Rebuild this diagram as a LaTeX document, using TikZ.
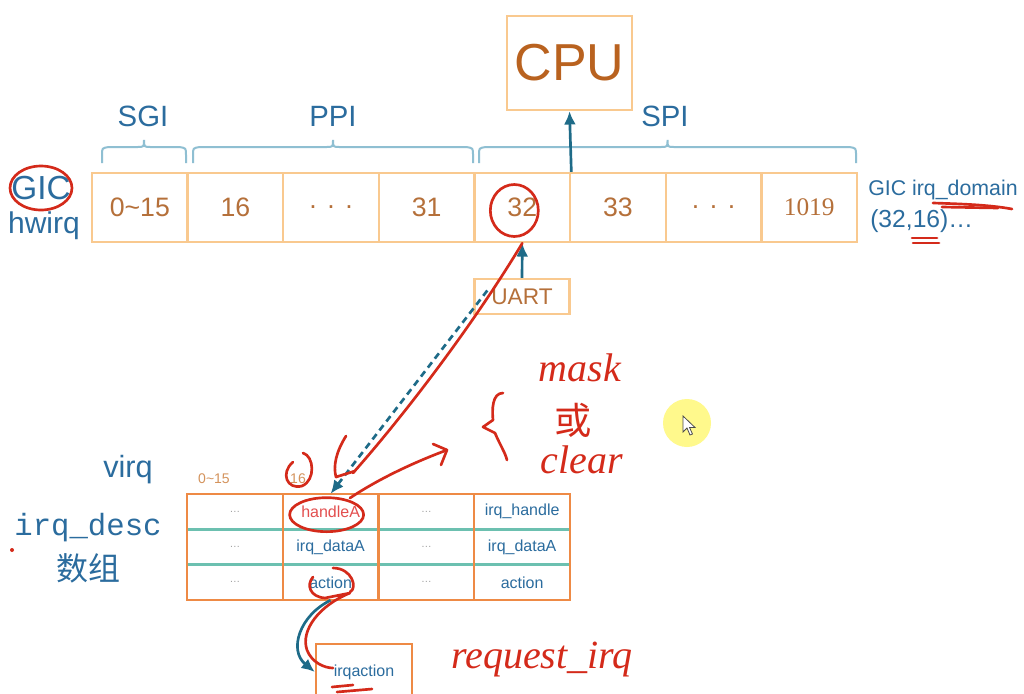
\documentclass[tikz,border=0pt]{standalone}
\usepackage{fontspec}
\setmainfont{Liberation Serif}
\setsansfont{Liberation Sans}
\setmonofont{Liberation Mono}
\newfontfamily\cjkfont{Noto Sans CJK SC}
\usepackage{tikz}
\usetikzlibrary{arrows.meta}
\usetikzlibrary{calc}

\definecolor{gicblue}{HTML}{2B6C9E}
\definecolor{bracecol}{HTML}{8FBFD2}
\definecolor{cellline}{HTML}{F9C98F}
\definecolor{numcol}{HTML}{B5703A}
\definecolor{smallnum}{HTML}{D4935C}
\definecolor{cpucol}{HTML}{B9621F}
\definecolor{arrowcol}{HTML}{1E6B88}
\definecolor{desccol}{HTML}{EE8A45}
\definecolor{rowcol}{HTML}{6CC0B0}
\definecolor{penred}{HTML}{D42A1A}
\definecolor{hred}{HTML}{E34F4F}
\definecolor{dotcol}{HTML}{A0A0A0}

\newcommand{\fsz}[1]{\fontsize{#1}{#1}\selectfont}

\begin{document}
\begin{tikzpicture}[x=0.75pt,y=-0.75pt,>={Latex[length=10pt,width=9pt]},font=\sffamily,
  cell/.style={draw=cellline,line width=1.8pt,minimum width=71.7pt,minimum height=51.75pt,inner sep=0pt,text=numcol,font=\sffamily\fsz{20}},
  grp/.style={text=gicblue,font=\sffamily\fsz{22}},
  lbl/.style={text=gicblue,inner sep=0pt},
  grpbrace/.style={draw=bracecol,line width=1.5pt},
  desccell/.style={minimum width=71.8pt,minimum height=26.5pt,inner sep=0pt,text=gicblue,font=\sffamily\fsz{12}},
  dotcell/.style={desccell,text=dotcol,font=\sffamily\fsz{8}},
  redcell/.style={desccell,text=hred},
  descline/.style={draw=desccol,line width=1.8pt},
  rowline/.style={draw=rowcol,line width=2pt},
  flow/.style={draw=arrowcol,line width=2pt},
  pen/.style={draw=penred,line width=2pt,line cap=round,line join=round},
  hand/.style={text=penred,font=\rmfamily\itshape\fsz{30}}]

\useasboundingbox (0,0) rectangle (1024,693);
\fill[white] (0,0) rectangle (1024,693);

\def\cw{95.625}
\def\dw{95.75}
\def\dh{35.33}

% CPU and the hwirq row
\node[draw=cellline,line width=1.8pt,minimum width=93.75pt,minimum height=70.5pt,text=cpucol,font=\sffamily\fsz{39}] (cpu) at (569.5,63) {CPU};

\foreach \t [count=\i from 0] in {0\textasciitilde 15,16,{.\hspace{.4em}.\hspace{.4em}.},31,32,33,{.\hspace{.4em}.\hspace{.4em}.},{\rmfamily\fsz{19}1019}}
  \node[cell] (c\i) at ({92+\cw*(\i+0.5)},207.5) {\t};

\foreach \a/\b in {102/186,193/473,479/856}{
  \pgfmathsetmacro\m{(\a+\b)/2}
  \draw[grpbrace] (\a,163) -- (\a,155) .. controls (\a,148) .. (\a+7,147) -- (\m-7,147) .. controls (\m,147) .. (\m,140) .. controls (\m,147) .. (\m+7,147) -- (\b-7,147) .. controls (\b,148) .. (\b,155) -- (\b,163);
}
\node[grp] (sgi) at (143,116) {SGI};
\node[grp] (ppi) at (333,116) {PPI};
\node[grp] (spi) at (665,116) {SPI};

\node[lbl,font=\sffamily\fsz{25}] (gic) at (41,188) {GIC};
\node[lbl,font=\sffamily\fsz{22.5}] (hwirq) at (44,226) {hwirq};
\node[lbl,anchor=west,font=\sffamily\fsz{16}] (dom) at (868,190) {GIC irq\_domain};
\node[lbl,anchor=west,font=\sffamily\fsz{18.5}] (range) at (870,221) {(32,16)\dots};

\node[draw=cellline,line width=1.8pt,minimum width=71.25pt,minimum height=26.25pt,inner sep=0pt,text=numcol,font=\sffamily\fsz{17}] (uart) at (522,296.5) {UART};

\draw[flow,->] (c4.north east) -- (cpu.south);
\draw[flow,->] (uart.north) -- (c4.south);

% irq_desc array
\node[lbl,font=\sffamily\fsz{23}] (virq) at (128,470) {virq};
\node[text=smallnum,font=\sffamily\fsz{10.5}] (v0) at (214,479) {0\textasciitilde 15};
\node[text=smallnum,font=\sffamily\fsz{10.5}] (v16) at (298,479) {16};
\node[lbl,font=\ttfamily\fsz{23}] (desc) at (88,528) {irq\_desc};
\node[lbl,font=\cjkfont\fsz{24}] (arr) at (88,568) {数组};

\foreach \y in {1,2}
  \draw[rowline] (187,{494+\dh*\y}) -- (570,{494+\dh*\y});
\foreach \i in {0,...,3}
  \draw[descline] ({187+\dw*\i},494) rectangle ++(\dw,106);

\foreach \r/\a/\sa/\b in {0/handleA/redcell/irq\_handle,1/irq\_dataA/desccell/irq\_dataA,2/action/desccell/action}{
  \foreach \c/\t/\s in {0/\dots/dotcell,1/\a/\sa,2/\dots/dotcell,3/\b/desccell}
    \node[\s] (d\r-\c) at ({187+\dw*(\c+0.5)},{494+\dh*(\r+0.5)}) {\t};
}

\node[draw=desccol,line width=1.8pt,minimum width=72pt,minimum height=42pt,text=gicblue,font=\sffamily\fsz{12}] (irqact) at (364,672) {irqaction};

\draw[flow,->] (d2-1.south) .. controls (300,615) and (288,650) .. (irqact.west);
\draw[flow,dash pattern=on 5pt off 3.5pt,->] ($(uart.west)+(14,-6)$) -- (d0-1.north);

% pointer
\fill[yellow!45] (687,423) circle (24);
\filldraw[fill=white,draw=black!70,line width=0.6pt] (683,416) -- (683,432) -- (687,428) -- (690,435) -- (692.5,434) -- (689.5,427.5) -- (695,427.5) -- cycle;

% red pen notes
\draw[pen] (gic) ellipse [x radius=31,y radius=22];
\draw[pen] ($(c4)+(-8,3)$) ellipse [x radius=24,y radius=26];
\draw[pen] ($(d0-1)+(-4,3)$) ellipse [x radius=37,y radius=17];
\draw[pen] (c4.south) .. controls (470,330) and (400,420) .. (353,473);
\draw[pen] (346,436) .. controls (336,452) and (333,466) .. (336,477) -- (355,471);
\draw[pen] (350,498) .. controls (380,478) and (415,462) .. (447,450);
\draw[pen] (433,444) -- (447,450) -- (441,465);
\draw[pen] (293,462) .. controls (280,473) and (287,490) .. (302,486) .. controls (316,480) and (314,456) .. (303,453);
\draw[pen] (333,568) .. controls (352,568) and (358,588) .. (350,592);
\draw[pen] (313,577) .. controls (306,585) and (310,597) .. (325,598) -- (350,593) .. controls (320,605) and (300,630) .. (307,650) .. controls (312,663) and (325,668) .. (333,668);
\draw[pen] (332,687) -- (353,685);
\draw[pen] (337,692) -- (372,689);
\draw[pen] (933,203) .. controls (965,204) and (990,205) .. (1012,209);
\draw[pen] (942,207) -- (998,208);
\draw[pen] (912,238) -- (937,238);
\draw[pen] (913,243) -- (939,243);
\fill[penred] (12,550) circle (2);
\draw[pen] (503,393) .. controls (492,393) and (492,410) .. (493,420) -- (483,427) -- (495,433) .. controls (500,445) and (505,452) .. (507,460);

\node[hand] (mask) at (580,368) {mask};
\node[hand,font=\cjkfont\fsz{28}] (huo) at (573,420) {或};
\node[hand] (clear) at (582,460) {clear};
\node[hand] (reqirq) at (542,660) {request\_irq};

\end{tikzpicture}
\end{document}
